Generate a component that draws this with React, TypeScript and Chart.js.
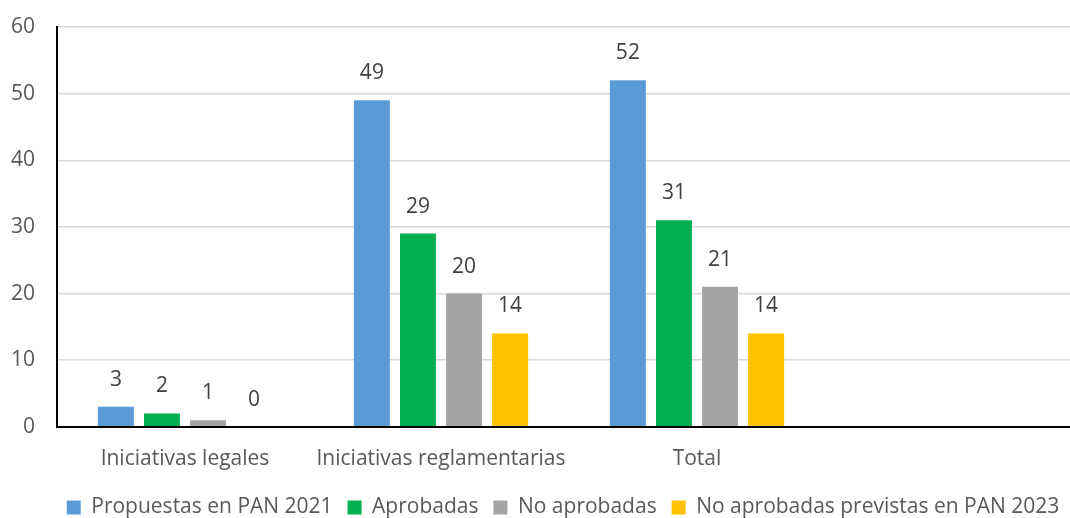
import React, { useEffect, useRef } from "react";
import { Chart, registerables } from "chart.js";

Chart.register(...registerables);

const categories = ["Iniciativas legales", "Iniciativas reglamentarias", "Total", ""];
const seriesNames = [
  "Propuestas en PAN 2021",
  "Aprobadas",
  "No aprobadas",
  "No aprobadas previstas en PAN 2023",
];
const propuestas = [3, 49, 52, null];
const aprobadas = [2, 29, 31, null];
const noAprobadas = [1, 20, 21, null];
const previstas2023 = [0, 14, 14, null];
const seriesColors = ["#5B9BD5", "#00B050", "#A5A5A5", "#FFC000"];
const yTicks = [0, 10, 20, 30, 40, 50, 60];

const FONT = "'Open Sans', 'Noto Sans', sans-serif";

const valueLabels = {
  id: "valueLabels",
  afterDatasetsDraw(chart: any) {
    const ctx = chart.ctx;
    ctx.save();
    ctx.font = `21px ${FONT}`;
    ctx.fillStyle = "#404040";
    ctx.textAlign = "center";
    ctx.textBaseline = "middle";
    chart.data.datasets.forEach((ds: any, i: number) => {
      const meta = chart.getDatasetMeta(i);
      meta.data.forEach((el: any, j: number) => {
        const v = ds.data[j];
        if (v === null || v === undefined) return;
        ctx.fillText(String(v), el.x, el.y - 27);
      });
    });
    ctx.restore();
  },
};

const legendShift = {
  id: "legendShift",
  afterLayout(chart: any) {
    if (chart.legend) {
      chart.legend.left -= 6;
      chart.legend.right -= 6;
    }
  },
};

export default function App() {
  const ref = useRef<HTMLCanvasElement | null>(null);
  useEffect(() => {
    if (!ref.current) return;
    const allData = [propuestas, aprobadas, noAprobadas, previstas2023];
    const chart = new Chart(ref.current, {
      type: "bar",
      data: {
        labels: categories,
        datasets: seriesNames.map((name, i) => ({
          label: name,
          data: allData[i],
          backgroundColor: seriesColors[i],
          borderWidth: 0,
          barPercentage: 0.78,
          categoryPercentage: 0.72,
        })),
      },
      options: {
        responsive: false,
        animation: false,
        layout: { padding: { top: 27, left: 10, right: 49, bottom: -10 } },
        plugins: {
          tooltip: { enabled: false },
          legend: {
            position: "bottom",
            fullSize: false,
            labels: {
              font: { family: FONT, size: 21 },
              color: "#595959",
              boxWidth: 14,
              boxHeight: 14,
              padding: 15,
            },
          },
        },
        scales: {
          x: {
            grid: { display: false, drawTicks: false },
            border: { display: true, color: "#000000", width: 2 },
            ticks: {
              font: { family: FONT, size: 21 },
              color: "#595959",
              padding: 20,
              maxRotation: 0,
              autoSkip: false,
            },
            afterFit: (axis: any) => {
              axis.height -= 10;
            },
          },
          y: {
            min: 0,
            max: 60,
            afterBuildTicks: (axis: any) => {
              axis.ticks = yTicks.map((v) => ({ value: v }));
            },
            grid: { color: "#D9D9D9", lineWidth: 1.5, drawTicks: false },
            border: { display: true, color: "#000000", width: 2 },
            ticks: {
              font: { family: FONT, size: 21 },
              color: "#595959",
              padding: 22,
            },
            afterFit: (axis: any) => {
              axis.width = 47;
              axis.paddingTop = 13;
              axis.paddingBottom = 13;
            },
          },
        },
      },
      plugins: [valueLabels, legendShift],
    });
    return () => chart.destroy();
  }, []);
  return (
    <div
      style={{
        position: "absolute",
        left: 0,
        top: 0,
        width: 1070,
        height: 518,
        overflow: "hidden",
        background: "#fff",
      }}
    >
      <canvas ref={ref} width={1130} height={518} style={{ width: 1130, height: 518 }} />
    </div>
  );
}
